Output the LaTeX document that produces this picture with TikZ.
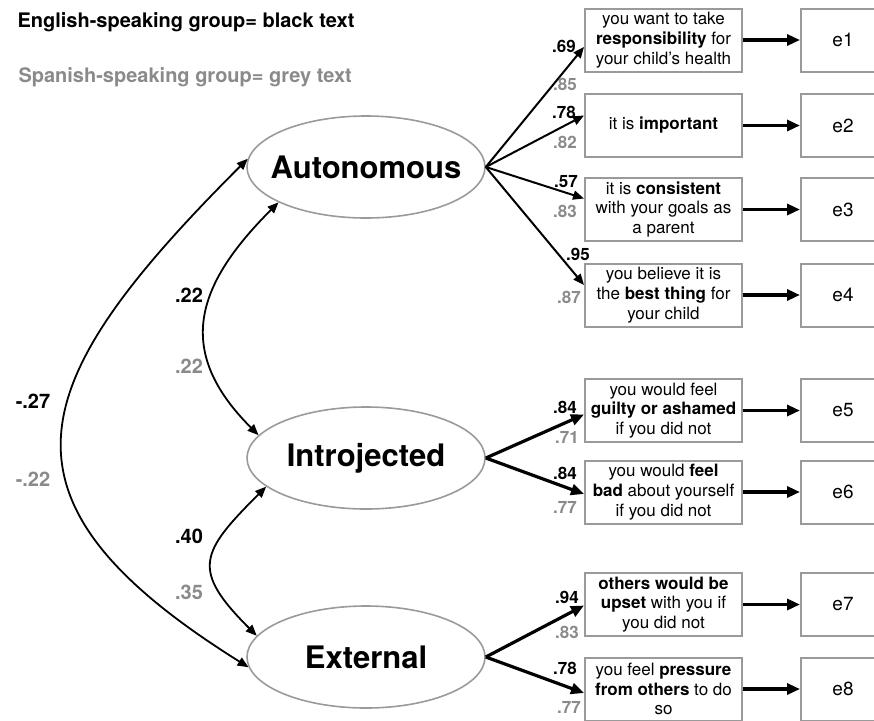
\documentclass[tikz,border=0pt]{standalone}
\usepackage{fontspec}
\setmainfont{TeX Gyre Heros}
\usetikzlibrary{arrows.meta,shapes.geometric}
\definecolor{boxgrey}{HTML}{9A9A9A}
\definecolor{txtgrey}{HTML}{8A8A8A}
%% 误差项文字:前 84pt 居中,右边留空,方框右边越出页面
\newcommand{\errlab}[1]{\makebox[84pt]{#1}\hspace*{40pt}}

\begin{document}
\begin{tikzpicture}[x=1pt, y=-1pt,
  >={Triangle[length=11pt,width=9pt]},
  factor/.style={ellipse, draw=boxgrey, line width=1.6pt, minimum width=238pt,
    minimum height=102pt, inner xsep=-40pt, inner ysep=0pt, font=\fontsize{31}{36}\selectfont\bfseries},
  item/.style={draw=boxgrey, line width=2pt, minimum width=157pt, minimum height=63pt,
    inner sep=0pt, align=center, font=\fontsize{17}{19.8}\selectfont},
  err/.style={draw=boxgrey, line width=2pt, minimum height=63pt, anchor=west,
    inner sep=0pt, font=\fontsize{19}{22}\selectfont},
  ld/.style={font=\fontsize{17}{20}\selectfont\bfseries},
  ldg/.style={ld, text=txtgrey},
  cv/.style={font=\fontsize{20}{24}\selectfont\bfseries},
  cvg/.style={cv, text=txtgrey},
  thin/.style={->, line width=2pt},
  thick/.style={-{Triangle[length=13pt,width=11pt]}, line width=3.2pt}]
\path[use as bounding box, clip] (0, 0) rectangle (874, 720);

%% 图例
\node[anchor=base west, font=\fontsize{20}{24}\selectfont\bfseries] (lgen) at (14, 27) {English-speaking group= black text};
\node[anchor=base west, font=\fontsize{20}{24}\selectfont\bfseries, text=txtgrey] (lgsp) at (15, 82) {Spanish-speaking group= grey text};

%% 三个潜变量(椭圆)
\node[factor] (aut) at (366, 167) {Autonomous};
\node[factor] (intro) at (366, 458) {Introjected};
\node[factor] (ext) at (366, 657) {External};

%% 题目方框
\node[item] (i1) at (663.5, 40) {you want to take\\\textbf{responsibility} for\\your child’s health};
\node[item] (i2) at (663.5, 125.5) {it is \textbf{important}};
\node[item] (i3) at (663.5, 209.5) {it is \textbf{consistent}\\with your goals as\\a parent};
\node[item] (i4) at (663.5, 295) {you believe it is\\the \textbf{best thing} for\\your child};
\node[item] (i5) at (663.5, 410.5) {you would feel\\\textbf{guilty or ashamed}\\if you did not};
\node[item] (i6) at (663.5, 492) {you would \textbf{feel}\\\textbf{bad} about yourself\\if you did not};
\node[item] (i7) at (663.5, 604.5) {\textbf{others would be}\\\textbf{upset} with you if\\you did not};
\node[item] (i8) at (663.5, 689) {you feel \textbf{pressure}\\\textbf{from others} to do\\so};

%% 误差项方框(右边被页面裁掉一部分)
\node[err] (e1) at (800, 40) {\errlab{e1}};
\node[err] (e2) at (800, 125.5) {\errlab{e2}};
\node[err] (e3) at (800, 209.5) {\errlab{e3}};
\node[err] (e4) at (800, 295) {\errlab{e4}};
\node[err] (e5) at (800, 410.5) {\errlab{e5}};
\node[err] (e6) at (800, 492) {\errlab{e6}};
\node[err] (e7) at (800, 604.5) {\errlab{e7}};
\node[err] (e8) at (800, 689) {\errlab{e8}};

%% 载荷箭头
\draw[thin] (aut.east) -- ([yshift=-7pt]i1.west);
\draw[thin] (aut.east) -- ([yshift=10pt]i2.west);
\draw[thin] (aut.east) -- ([yshift=11pt]i3.west);
\draw[thin] (aut.east) -- ([yshift=10pt]i4.west);
\draw[thick] (intro.east) -- ([yshift=-4pt]i5.west);
\draw[thick] (intro.east) -- ([yshift=-2pt]i6.west);
\draw[thick] (ext.east) -- ([yshift=-1pt]i7.west);
\draw[thick] (ext.east) -- ([yshift=-4pt]i8.west);

%% 题目到误差项
\draw[thick] (i1.east) -- (e1.west);
\draw[thick] (i2.east) -- (e2.west);
\draw[thick] (i3.east) -- (e3.west);
\draw[thick] (i4.east) -- (e4.west);
\draw[thick] (i5.east) -- (e5.west);
\draw[thick] (i6.east) -- (e6.west);
\draw[thick] (i7.east) -- (e7.west);
\draw[thick] (i8.east) -- (e8.west);

%% 载荷数值:黑色为英语组,灰色为西语组
\node[ld] (l1a) at (564, 46) {.69};
\node[ldg] (l1b) at (565, 84) {.85};
\node[ld] (l2a) at (564, 112) {.78};
\node[ldg] (l2b) at (565, 142) {.82};
\node[ld] (l3a) at (566, 182) {.57};
\node[ldg] (l3b) at (565, 211) {.83};
\node[ld] (l4a) at (578, 254) {.95};
\node[ldg] (l4b) at (569, 297) {.87};
\node[ld] (l5a) at (565, 407) {.84};
\node[ldg] (l5b) at (567, 437) {.71};
\node[ld] (l6a) at (565, 473) {.84};
\node[ldg] (l6b) at (565, 507) {.77};
\node[ld] (l7a) at (567, 597) {.94};
\node[ldg] (l7b) at (567, 632) {.83};
\node[ld] (l8a) at (565, 668) {.78};
\node[ldg] (l8b) at (569, 707) {.77};

%% 潜变量之间的相关(双向弧线)
\draw[<->, line width=1.8pt] (aut.202) to[out=225, in=135, looseness=1.3] (intro.168);
\draw[<->, line width=1.8pt] (intro.196) to[out=225, in=135, looseness=1.6] (ext.169);
\draw[<->, line width=1.8pt] (aut.176) to[out=225, in=148, looseness=1.6] (ext.185);

\node[cv] (c1a) at (189, 295) {.22};
\node[cvg] (c1b) at (189, 366) {.22};
\node[cv] (c2a) at (189, 536) {.40};
\node[cvg] (c2b) at (189, 592) {.35};
\node[cv] (c3a) at (33, 401) {-.27};
\node[cvg] (c3b) at (33, 479) {-.22};
\end{tikzpicture}
\end{document}
